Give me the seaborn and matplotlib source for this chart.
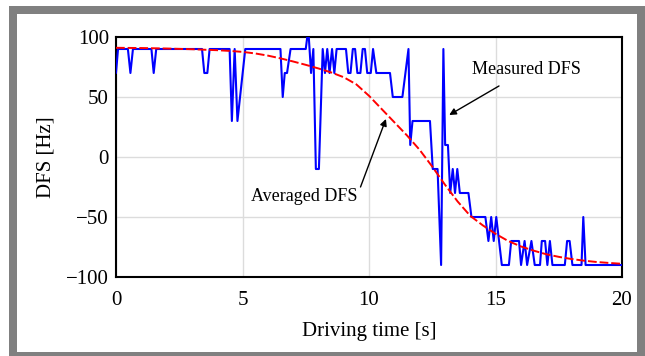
import matplotlib
matplotlib.use("Agg")
import matplotlib.pyplot as plt
from matplotlib.patches import Rectangle
import seaborn as sns
import pandas as pd

# Measured DFS (time in s, DFS in Hz)
meas_t = [0.0, 0.08, 0.47, 0.57, 0.67, 1.4, 1.49, 1.59, 3.4, 3.49, 3.61, 3.7,
          4.49, 4.58, 4.69, 4.8, 5.11, 6.5, 6.59, 6.67, 6.76, 6.9, 7.5, 7.56,
          7.62, 7.71, 7.8, 7.9, 8.02, 8.17, 8.26, 8.35, 8.44, 8.54, 8.63, 8.72,
          9.09, 9.18, 9.27, 9.36, 9.45, 9.54, 9.66, 9.75, 9.84, 9.93, 10.07,
          10.16, 10.29, 10.83, 10.94, 11.32, 11.56, 11.63, 11.72, 12.41, 12.52,
          12.71, 12.85, 12.94, 13.01, 13.12, 13.21, 13.31, 13.4, 13.49, 13.59,
          13.93, 14.05, 14.6, 14.72, 14.83, 14.93, 15.03, 15.25, 15.53, 15.62,
          15.93, 16.01, 16.15, 16.25, 16.42, 16.55, 16.76, 16.83, 16.96, 17.05,
          17.15, 17.25, 17.74, 17.83, 17.93, 18.04, 18.4, 18.47, 18.56, 20.0]
meas_v = [70, 90, 90, 70, 90, 90, 70, 90, 90, 70, 70, 90,
          90, 30, 90, 30, 90, 90, 50, 70, 70, 90, 90, 100,
          100, 70, 90, -10, -10, 90, 70, 90, 70, 90, 70, 90,
          90, 70, 70, 90, 90, 70, 70, 90, 90, 70, 70,
          90, 70, 70, 50, 50, 90, 10, 30, 30, -10,
          -10, -90, 90, 10, 10, -30, -10, -30, -10, -30,
          -30, -50, -50, -70, -50, -70, -50, -90, -90, -70,
          -70, -90, -70, -90, -70, -90, -90, -70, -70, -90,
          -70, -90, -90, -70, -70, -90, -90, -50, -90, -90]

# Averaged DFS
avg_t = [0, 1, 2, 3, 4, 4.5, 5, 5.5, 6, 6.5, 7, 7.5, 8, 8.5, 9, 9.5, 10, 10.5,
         11, 11.5, 12, 12.5, 13, 13.5, 14, 14.5, 15, 15.5, 16, 16.5, 17, 17.5,
         18, 18.5, 19, 19.5, 20]
avg_v = [91, 90.8, 90.4, 89.8, 89, 88.4, 87.6, 86.3, 84.5, 82.2, 79.6, 76.8,
         73.8, 70.5, 66.5, 60.5, 51, 40, 29, 18, 6, -8, -23, -37, -49, -57,
         -64, -70, -74.5, -78, -81, -83.2, -85, -86.4, -87.5, -88.3, -89]

x_ticks = [0, 5, 10, 15, 20]
y_ticks = [-100, -50, 0, 50, 100]

sns.set_theme(style="whitegrid")
plt.rcParams["font.family"] = ["Liberation Serif", "DejaVu Serif"]
plt.rcParams["mathtext.fontset"] = "stix"

fig = plt.figure(figsize=(6.45, 3.56), dpi=100)
fig.patch.set_facecolor("white")
# gray frame
fig.add_artist(Rectangle((9 / 645, 0), 1 - 9 / 645, 1 - 6 / 356,
                         transform=fig.transFigure, facecolor="#808080",
                         edgecolor="none", zorder=-10))
fig.add_artist(Rectangle((16.5 / 645, 4 / 356), (637 - 16.5) / 645,
                         (352 - 14) / 356, transform=fig.transFigure,
                         facecolor="white", edgecolor="none", zorder=-9))

ax = fig.add_axes([116 / 645, 1 - 277 / 356, (622 - 116) / 645, (277 - 37) / 356])

df_m = pd.DataFrame({"t": meas_t, "v": meas_v})
df_a = pd.DataFrame({"t": avg_t, "v": avg_v})

sns.lineplot(data=df_m, x="t", y="v", ax=ax, color="#0000ff", lw=1.5,
             estimator=None, sort=False, zorder=3)
sns.lineplot(data=df_a, x="t", y="v", ax=ax, color="#ff0000", lw=1.4,
             estimator=None, sort=False, zorder=4, dashes=False)
ax.lines[-1].set_dashes([4.5, 1.5])

ax.set_xlim(0, 20)
ax.set_ylim(-100, 100)
ax.set_xticks(x_ticks)
ax.set_yticks(y_ticks)
ax.set_xticklabels([str(v) for v in x_ticks])
ax.set_yticklabels([("\u2212" + str(-v)) if v < 0 else str(v) for v in y_ticks])
ax.tick_params(axis="both", length=0, labelsize=15, colors="black")
ax.tick_params(axis="x", pad=10)
ax.tick_params(axis="y", pad=5)
ax.grid(True, color="#dcdcdc", lw=1.0)
ax.set_facecolor("white")
for s in ax.spines.values():
    s.set_color("black")
    s.set_linewidth(1.5)

ax.set_xlabel("Driving time [s]", fontsize=15, color="black", labelpad=9)
ax.set_ylabel("DFS [Hz]", fontsize=15, color="black", labelpad=8)

ax.annotate("Measured DFS", xy=(13.17, 35), xytext=(14.07, 72.5),
            fontsize=13, color="black", ha="left", va="center",
            arrowprops=dict(arrowstyle="-|>", color="black", lw=1.0,
                            mutation_scale=10, shrinkA=6, shrinkB=0),
            zorder=6)
ax.annotate("Averaged DFS", xy=(10.67, 31.7), xytext=(7.43, -33),
            fontsize=13, color="black", ha="center", va="center",
            arrowprops=dict(arrowstyle="-|>", color="black", lw=1.0,
                            mutation_scale=10, shrinkA=0, shrinkB=0,
                            relpos=(1.0, 0.55)),
            zorder=6)

fig.savefig("out.png", dpi=100, facecolor="white")
